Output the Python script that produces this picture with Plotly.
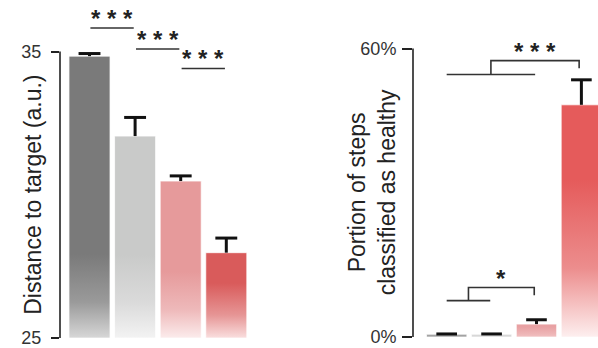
import plotly.graph_objects as go

# ---------------- data ----------------
positions = [0, 1, 2, 3]

# left panel: distance to target (a.u.)
distance_mean = [34.84, 32.05, 30.48, 27.98]
distance_err = [0.09, 0.65, 0.18, 0.51]
distance_ticks = [25, 35]
distance_ticklabels = ["25", "35"]

# right panel: portion of steps classified as healthy (%)
healthy_mean = [0.6, 0.6, 2.7, 48.3]
healthy_err = [0.05, 0.05, 0.9, 5.2]
healthy_ticks = [0, 60]
healthy_ticklabels = ["0%", "60%"]

# significance marks
left_pairs = [(0, 1), (1, 2), (2, 3)]
left_levels = [35.82, 35.09, 34.41]
left_labels = ["* * *", "* * *", "* * *"]

# bracket: (group start, group end, target, lower level, top level, drop level, label)
right_brackets = [
    (0, 2, 3, 54.6, 57.5, 55.9, "* * *"),
    (0, 1, 2, 7.57, 10.3, 8.7, "*"),
]

# ---------------- styles ----------------
FONT = "Liberation Sans, Arial, Helvetica, sans-serif"
INK = "#222222"
BAR_W = 0.9

left_top = ["#7a7a7a", "#c9cac9", "#e69a9b", "#d95b5b"]
left_mid = ["#9a9a9a", "#dadada", "#eeb9ba", "#e69595"]
left_bottom = ["#dcdcdc", "#f5f5f5", "#fdf1f1", "#fce8e8"]
left_fade = [3.0, 3.0, 2.4, 2.0]

right_top = ["#a3a3a3", "#d8d8d8", "#e8a1a3", "#e55b5b"]
right_mid = ["#a3a3a3", "#d8d8d8", "#eeb6b7", "#ec8d8d"]
right_bottom = ["#a3a3a3", "#d8d8d8", "#f4cdcd", "#fef3f3"]
right_fade = [1.0, 1.0, 2.7, 33.0]

fig = go.Figure()


def add_bar(x, base, top, c_top, c_mid, c_bottom, fade, xa, ya):
    h = BAR_W / 2
    fig.add_trace(go.Scatter(
        x=[x - h, x + h, x + h, x - h, x - h],
        y=[base, base, top, top, base],
        xaxis=xa, yaxis=ya, mode="lines", fill="toself",
        line=dict(width=1, color="rgba(255,255,255,0.75)"),
        fillgradient=dict(type="vertical",
                          colorscale=[[0, c_bottom], [0.45, c_mid], [1, c_top]],
                          start=base, stop=min(top, base + fade)),
        hoverinfo="skip", showlegend=False))


def add_errors(xs_c, means, errs, cap, xa, ya):
    xs, ys = [], []
    for x, m, e in zip(xs_c, means, errs):
        xs += [x, x, None, x - cap, x + cap, None]
        ys += [m, m + e, None, m + e, m + e, None]
    fig.add_trace(go.Scatter(x=xs, y=ys, xaxis=xa, yaxis=ya, mode="lines",
                             line=dict(color="#111111", width=3),
                             hoverinfo="skip", showlegend=False))


# left bars
for i, x in enumerate(positions):
    add_bar(x, 25, distance_mean[i], left_top[i], left_mid[i], left_bottom[i],
            left_fade[i], "x", "y")
add_errors(positions, distance_mean, distance_err, 0.24, "x", "y")

# right bars
for i, x in enumerate(positions):
    add_bar(x, 0, healthy_mean[i], right_top[i], right_mid[i], right_bottom[i],
            right_fade[i], "x2", "y2")
add_errors(positions, healthy_mean, healthy_err, 0.23, "x2", "y2")

annotations = []
STAR_FONT = dict(family=FONT, size=24, color=INK)

# left significance lines
for (a, b), lvl, lab in zip(left_pairs, left_levels, left_labels):
    x0, x1 = positions[a] + 0.02, positions[b] - 0.03
    fig.add_trace(go.Scatter(x=[x0, x1], y=[lvl, lvl], xaxis="x", yaxis="y",
                             mode="lines", line=dict(color="#333333", width=1.6),
                             hoverinfo="skip", showlegend=False))
    annotations.append(dict(x=(x0 + x1) / 2, y=lvl, xref="x", yref="y",
                            text="<b>" + lab + "</b>", showarrow=False,
                            yanchor="bottom", yshift=-6, font=STAR_FONT))

# right brackets
for g0, g1, tgt, low, top, drop, lab in right_brackets:
    x0, x1 = positions[g0], positions[g1] - 0.03
    mid = (x0 + x1) / 2
    xt = positions[tgt] - 0.05
    fig.add_trace(go.Scatter(x=[x0, x1, None, mid, mid, xt, xt],
                             y=[low, low, None, low, top, top, drop],
                             xaxis="x2", yaxis="y2", mode="lines",
                             line=dict(color="#333333", width=1.6),
                             hoverinfo="skip", showlegend=False))
    annotations.append(dict(x=(mid + xt) / 2, y=top, xref="x2", yref="y2",
                            text="<b>" + lab + "</b>", showarrow=False,
                            yanchor="bottom", yshift=-6, font=STAR_FONT))

# axis titles
annotations.append(dict(x=33 / 598, y=1 - 196.5 / 348, xref="paper", yref="paper",
                        text="Distance to target (a.u.)", textangle=-90,
                        showarrow=False, xanchor="center", yanchor="middle",
                        font=dict(family=FONT, size=23, color=INK)))
annotations.append(dict(x=372 / 598, y=1 - 194 / 348, xref="paper", yref="paper",
                        text="Portion of steps<br>classified as healthy", textangle=-90,
                        showarrow=False, xanchor="center", yanchor="middle",
                        font=dict(family=FONT, size=23, color=INK)))

# axis spines only over the tick span
shapes = [
    dict(type="line", xref="x domain", yref="y", x0=0, x1=0,
         y0=distance_ticks[0], y1=distance_ticks[-1], line=dict(color=INK, width=1.6)),
    dict(type="line", xref="x2 domain", yref="y2", x0=0, x1=0,
         y0=healthy_ticks[0], y1=healthy_ticks[-1], line=dict(color=INK, width=1.6)),
]

yax_common = dict(showgrid=False, zeroline=False, showline=False, ticks="outside",
                  tickwidth=1.6, tickcolor=INK, ticklabeloverflow="allow",
                  tickfont=dict(family=FONT, size=18, color="#333333"))

fig.update_layout(
    width=598, height=348, autosize=False,
    margin=dict(l=0, r=0, t=0, b=0),
    paper_bgcolor="white", plot_bgcolor="white",
    showlegend=False,
    xaxis=dict(domain=[60 / 598, 262 / 598], range=[-0.647, 3.783], visible=False),
    yaxis=dict(domain=[0, 1], range=[24.758, 36.799], anchor="x",
               tickvals=distance_ticks, ticktext=distance_ticklabels,
               ticklen=8, ticklabelstandoff=6, **yax_common),
    xaxis2=dict(domain=[413 / 598, 1], range=[-0.75, 3.37], visible=False),
    yaxis2=dict(domain=[0, 1], range=[-1.649, 70.10], anchor="x2",
                tickvals=healthy_ticks, ticktext=healthy_ticklabels,
                ticklen=10, ticklabelstandoff=2, **yax_common),
    annotations=annotations,
    shapes=shapes,
)

fig.write_html("out.html")
